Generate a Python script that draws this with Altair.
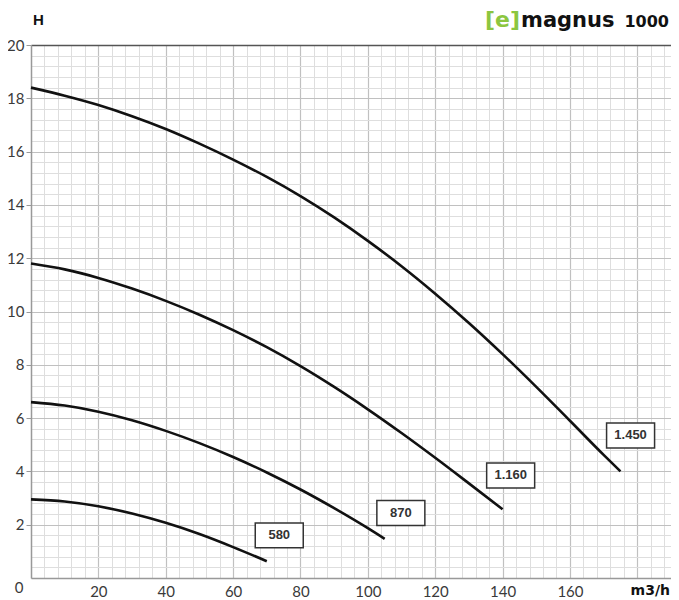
import altair as alt
import pandas as pd

# ---- data ----
speeds = ["1.450", "1.160", "870", "580"]

q_1450 = [0, 10, 20, 30, 40, 50, 60, 70, 80, 90, 100, 110, 120, 130, 140, 150, 160, 170, 175]
h_1450 = [18.4, 18.1, 17.75, 17.33, 16.85, 16.3, 15.7, 15.05, 14.33, 13.53, 12.65, 11.7, 10.67, 9.57, 8.4, 7.17, 5.9, 4.62, 4.0]

q_1160 = [0, 10, 20, 30, 40, 50, 60, 70, 80, 90, 100, 110, 120, 130, 140]
h_1160 = [11.8, 11.58, 11.26, 10.86, 10.4, 9.88, 9.3, 8.66, 7.95, 7.17, 6.33, 5.44, 4.51, 3.55, 2.58]

q_870 = [0, 10, 20, 30, 40, 50, 60, 70, 80, 90, 100, 105]
h_870 = [6.6, 6.47, 6.24, 5.92, 5.52, 5.06, 4.54, 3.96, 3.32, 2.62, 1.87, 1.47]

q_580 = [0, 10, 20, 30, 40, 50, 60, 70]
h_580 = [2.95, 2.87, 2.69, 2.42, 2.07, 1.65, 1.16, 0.63]

label_q = [178.0, 142.4, 109.8, 73.7]
label_h = [5.35, 3.85, 2.44, 1.6]

x_major = [20, 40, 60, 80, 100, 120, 140, 160, 180]
y_major = [2, 4, 6, 8, 10, 12, 14, 16, 18, 20]
x_minor = [v for v in range(0, 191, 4) if v % 20 != 0]
y_minor = [round(i * 0.4, 1) for i in range(51) if i % 5 != 0]

rows = []
for s, qs, hs in zip(speeds, [q_1450, q_1160, q_870, q_580], [h_1450, h_1160, h_870, h_580]):
    for q, h in zip(qs, hs):
        rows.append({"speed": s, "q": q, "h": h})
df = pd.DataFrame(rows)
labels = pd.DataFrame({"speed": speeds, "q": label_q, "h": label_h})
origin = pd.DataFrame({"q": [0], "h": [0], "t": ["0"]})

xscale = alt.Scale(domain=[0, 190], nice=False, zero=False)
yscale = alt.Scale(domain=[0, 20], nice=False)

TICKFONT = "Lato"

minor = alt.Chart(df).mark_line(opacity=0).encode(
    x=alt.X("q:Q", scale=xscale, axis=alt.Axis(
        orient="top", values=x_minor, labels=False, ticks=False, grid=True,
        gridColor="#dedede", gridWidth=1, domain=True, domainColor="#555",
        domainWidth=1.5, title=None)),
    y=alt.Y("h:Q", scale=yscale, axis=alt.Axis(
        orient="right", values=y_minor, labels=False, ticks=False, grid=True,
        gridColor="#dedede", gridWidth=1, domain=False, title=None)),
    detail="speed:N",
)

lines = alt.Chart(df).mark_line(color="#111", strokeWidth=2.6, interpolate="monotone").encode(
    x=alt.X("q:Q", scale=xscale, axis=alt.Axis(
        orient="bottom", values=x_major, grid=True, gridColor="#c0c0c0", gridWidth=1.2,
        domainColor="#999", domainWidth=1.5, ticks=False, labelPadding=6,
        labelExpr="datum.value == 180 ? '' : datum.label",
        labelFont=TICKFONT, labelFontSize=15, labelColor="#3a3a3a", title=None)),
    y=alt.Y("h:Q", scale=yscale, axis=alt.Axis(
        orient="left", values=y_major, grid=True, gridColor="#c0c0c0", gridWidth=1.2,
        domainColor="#999", domainWidth=1.5, tickSize=5, tickColor="#999",
        labelPadding=2, labelFont=TICKFONT, labelFontSize=15, labelColor="#3a3a3a",
        title=None)),
    detail="speed:N",
)

bx = alt.X("q:Q", axis=None)
by = alt.Y("h:Q", axis=None)

boxes = alt.Chart(labels).mark_point(
    shape="M-1,-0.52L1,-0.52L1,0.52L-1,0.52Z", size=2304, fill="white",
    stroke="#333", strokeWidth=1.5, opacity=1, fillOpacity=1,
).encode(x=bx, y=by)

box_text = alt.Chart(labels).mark_text(
    font="Liberation Sans", fontWeight="bold", fontSize=13, color="#333"
).encode(x=bx, y=by, text="speed:N")

zero = alt.Chart(origin).mark_text(
    font=TICKFONT, fontSize=15, color="#3a3a3a", dx=-12, dy=10
).encode(x=bx, y=by, text="t:N")

h_title = alt.Chart(origin).mark_text(
    font="Liberation Sans", fontWeight="bold", fontSize=15, color="#111", align="left"
).encode(x=alt.value(2), y=alt.value(-25), text=alt.value("H"))

unit = alt.Chart(origin).mark_text(
    font="DejaVu Sans", fontWeight="bold", fontSize=14, color="#111", align="right"
).encode(x=alt.value(639), y=alt.value(546), text=alt.value("m3/h"))

logo_e = alt.Chart(origin).mark_text(
    font="DejaVu Sans", fontWeight="bold", fontSize=22, color="#8cc63f", align="left",
    baseline="alphabetic"
).encode(x=alt.value(454), y=alt.value(-18), text=alt.value("[e]"))

logo_m = alt.Chart(origin).mark_text(
    font="DejaVu Sans", fontWeight="bold", fontSize=21, color="#111", align="left",
    baseline="alphabetic"
).encode(x=alt.value(490), y=alt.value(-18), text=alt.value("magnus"))

logo_n = alt.Chart(origin).mark_text(
    font="DejaVu Sans", fontWeight="bold", fontSize=16, color="#111", align="right",
    baseline="alphabetic"
).encode(x=alt.value(638), y=alt.value(-18), text=alt.value("1000"))

chart = alt.layer(
    minor, lines, boxes, box_text, zero, h_title, unit, logo_e, logo_m, logo_n
).resolve_axis(x="independent", y="independent").properties(
    width=640, height=533,
    autosize=alt.AutoSizeParams(type="none"),
    padding={"left": 23, "top": 37, "right": 0, "bottom": 22},
).configure_view(stroke=None).configure(background="white")

chart.save("out.html", embed_options={"renderer": "svg", "actions": False})
